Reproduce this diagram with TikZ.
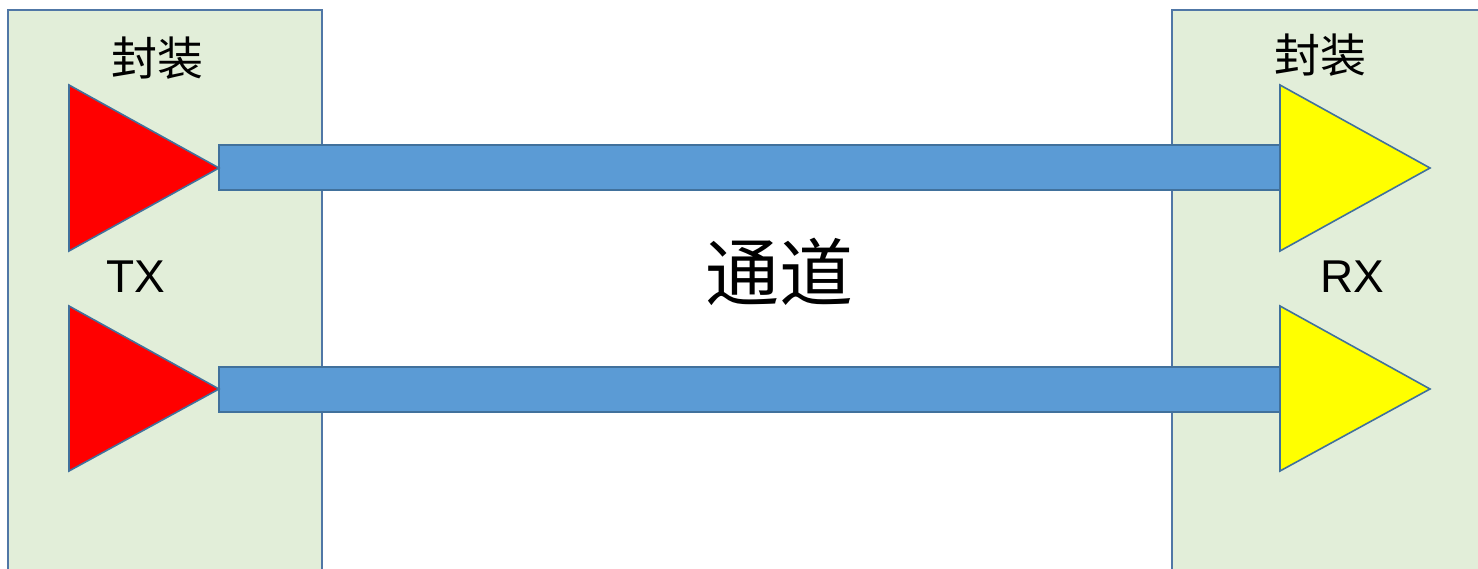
\documentclass[tikz,border=0pt]{standalone}
\usepackage{fontspec}
\setmainfont{Liberation Sans}
\newfontfamily\cjk{Noto Sans CJK SC}
\definecolor{pkgfill}{HTML}{E2EED9}
\definecolor{pkgline}{HTML}{5077A6}
\definecolor{barfill}{HTML}{5B9BD5}
\definecolor{barline}{HTML}{41719C}
\definecolor{rxyellow}{HTML}{FFFF00}
\tikzset{
  pkgbg/.style={fill=pkgfill},
  pkgedge/.style={draw=pkgline,line width=2pt},
  bar/.style={fill=barfill,draw=barline,line width=2pt},
  txtri/.style={fill=red,draw=barline,line width=1.6pt,line join=miter},
  rxtri/.style={fill=rxyellow,draw=barline,line width=1.6pt,line join=miter},
  cjklabel/.style={font=\cjk\fontsize{46}{50}\selectfont,inner sep=0pt},
  txlabel/.style={font=\fontsize{46}{50}\selectfont,inner sep=0pt},
}
\begin{document}
\begin{tikzpicture}[x=1pt,y=-1pt]
\useasboundingbox (0,0) rectangle (1478,569);
% packages
\fill[pkgbg] (8,10) rectangle (322,575);
\draw[pkgedge] (8,575) -- (8,10) -- (322,10) -- (322,575);
\fill[pkgbg] (1172,10) rectangle (1485,575);
\draw[pkgedge] (1172,575) -- (1172,10) -- (1485,10);
% triangle coordinates
\coordinate (tx1) at (219,168);
\coordinate (tx2) at (219,389);
\coordinate (rx1) at (1280,168);
\coordinate (rx2) at (1280,389);
% channels
\draw[bar] ([yshift=-22.5]tx1) rectangle ([yshift=22.5]rx1);
\draw[bar] ([yshift=-22.5]tx2) rectangle ([yshift=22.5]rx2);
% drivers
\draw[txtri] (69,85) -- (tx1) -- (69,251) -- cycle;
\draw[txtri] (69,306) -- (tx2) -- (69,471) -- cycle;
\draw[rxtri] (1280,85) -- (1430,168) -- (1280,251) -- cycle;
\draw[rxtri] (1280,306) -- (1430,389) -- (1280,471) -- cycle;
% labels
\node[cjklabel] (pkgL) at (157,58) {封装};
\node[cjklabel] (pkgR) at (1320,55) {封装};
\node[txlabel] (tx) at (136,277) {TX};
\node[txlabel] (rx) at (1352,277) {RX};
\node[font=\cjk\fontsize{74}{80}\selectfont,inner sep=0pt] (ch) at (779,272) {通道};
\end{tikzpicture}
\end{document}
